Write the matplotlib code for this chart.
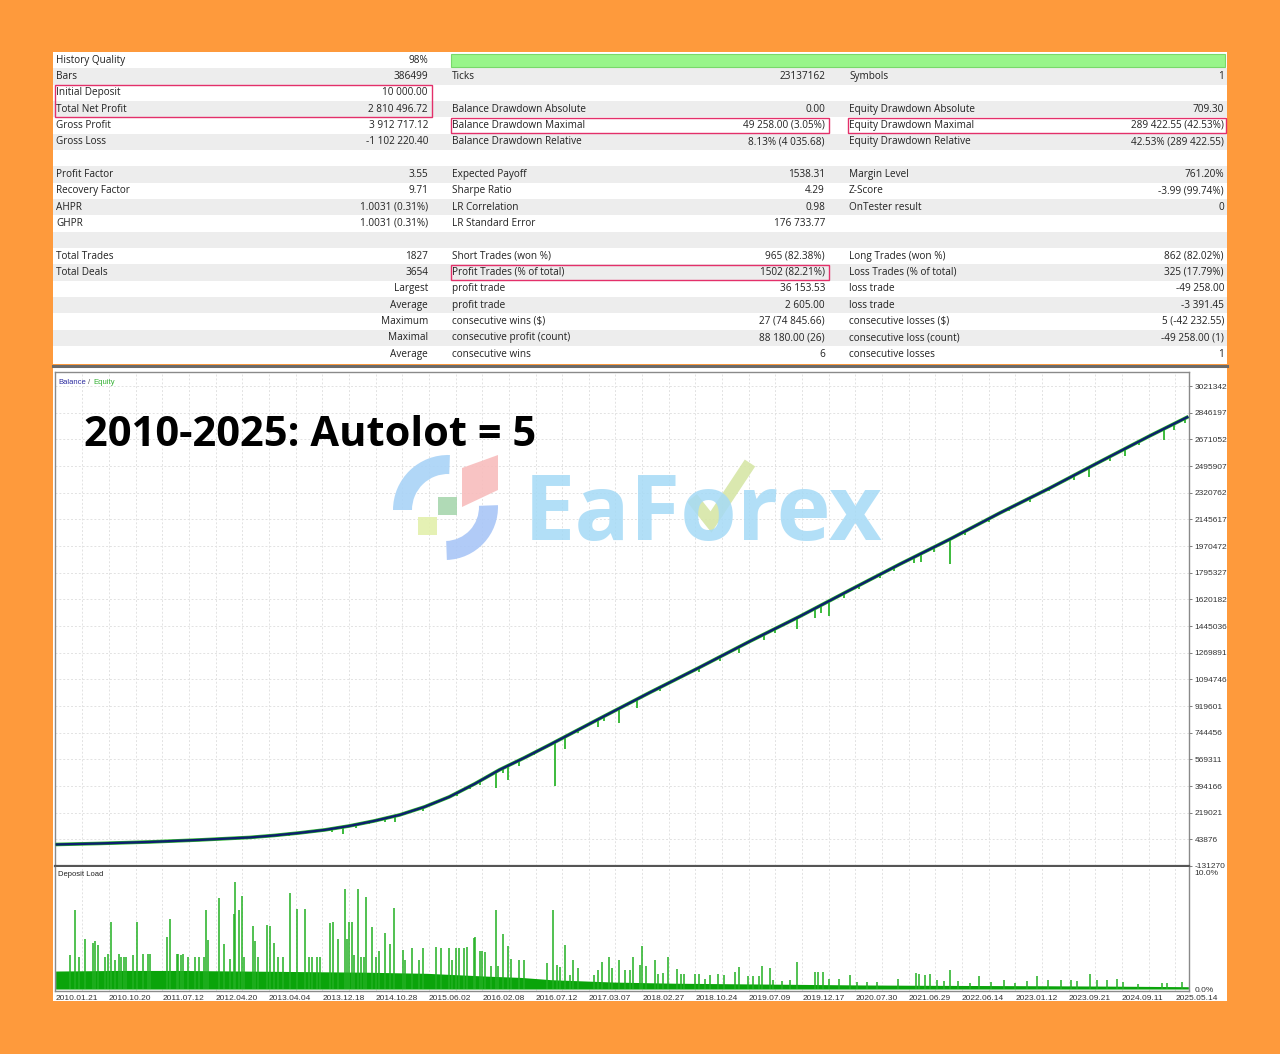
import numpy as np
import matplotlib
matplotlib.use('Agg')
import matplotlib.pyplot as plt
from matplotlib.patches import Rectangle, Polygon, Wedge

# ---------------- data ----------------
# balance curve (trade number -> balance)
trade_pts = [0, 71, 152, 232, 313, 353, 393, 434, 474, 514, 555, 595, 635, 676, 716,
             756, 797, 877, 958, 1038, 1119, 1200, 1280, 1361, 1442, 1522, 1603, 1683,
             1764, 1827]
balance_pts = [10000, 16800, 26700, 39900, 56300, 69500, 86000, 105700, 132000, 164900,
               204400, 257100, 322900, 408500, 500600, 579600, 665100, 836300, 1007400,
               1172000, 1343100, 1507700, 1678800, 1850000, 2014500, 2185600, 2350100,
               2521300, 2692400, 2820497]

# equity dips (trade number, depth below balance)
dip_t = [289, 377, 445, 464, 485, 506, 532, 547, 593, 648, 668, 684, 711, 721, 730,
         747, 772, 805, 822, 842, 874, 884, 909, 938, 974, 1038, 1071, 1103, 1143,
         1160, 1195, 1224, 1235, 1248, 1272, 1296, 1329, 1353, 1385, 1396, 1417, 1443,
         1466, 1506, 1538, 1571, 1603, 1643, 1667, 1700, 1724, 1748, 1788, 1804, 1821]
dip_depth = [10000, 15000, 20000, 46000, 22000, 15000, 22000, 39500, 26000, 22000,
             20000, 25000, 105000, 30000, 92000, 33000, 15000, 290000, 83000, 22000,
             48000, 33000, 99000, 60000, 20000, 30000, 25000, 40000, 40000, 25000,
             70000, 60000, 50000, 100000, 30000, 25000, 20000, 25000, 40000, 55000,
             30000, 165000, 25000, 25000, 20000, 25000, 20000, 30000, 60000, 30000,
             45000, 25000, 75000, 40000, 30000]

# deposit load baseline (trade number, %)
base_t = [0, 100, 200, 300, 400, 500, 600, 700, 750, 800, 850, 900, 950, 1000, 1100,
          1200, 1300, 1400, 1500, 1600, 1700, 1827]
base_pct = [1.55, 1.6, 1.6, 1.55, 1.5, 1.45, 1.35, 1.1, 1.0, 0.8, 0.7, 0.6, 0.55, 0.5,
            0.45, 0.4, 0.35, 0.32, 0.3, 0.28, 0.25, 0.2]

# deposit load spikes (trade number, %)
spike_t = [23, 31, 37, 48, 60, 63, 68, 79, 85, 90, 95, 102, 105, 110, 114, 124, 132,
           141, 149, 152, 179, 185, 195, 198, 203, 206, 214, 224, 231, 239, 243, 245,
           264, 271, 281, 287, 290, 295, 300, 304, 318, 322, 327, 341, 345, 353, 358,
           366, 378, 390, 403, 409, 414, 421, 426, 443, 448, 456, 466, 470, 473, 478,
           482, 487, 493, 498, 501, 510, 516, 522, 532, 540, 546, 560, 564, 574, 586,
           592, 614, 621, 634, 640, 646, 651, 658, 663, 674, 677, 684, 687, 692, 703,
           710, 714, 721, 730, 735, 747, 755, 792, 803, 809, 814, 822, 829, 834, 843,
           868, 875, 882, 893, 898, 908, 919, 926, 932, 942, 945, 953, 966, 972, 980,
           987, 1002, 1009, 1013, 1032, 1038, 1047, 1056, 1069, 1078, 1095, 1102, 1116,
           1124, 1134, 1140, 1153, 1157, 1172, 1184, 1195, 1224, 1230, 1238, 1248,
           1263, 1281, 1293, 1309, 1324, 1359, 1387, 1393, 1403, 1411, 1421, 1433,
           1443, 1456, 1475, 1490, 1508, 1529, 1548, 1566, 1583, 1600, 1621, 1638,
           1648, 1669, 1679, 1696, 1712, 1721, 1745, 1784, 1793, 1817]
spike_pct = [2.9, 6.8, 2.8, 4.3, 4.0, 4.1, 3.8, 2.8, 3.0, 5.8, 2.5, 3.0, 2.8, 2.8, 2.8,
             2.9, 5.8, 3.0, 3.0, 3.0, 4.5, 6.0, 3.0, 3.0, 2.9, 3.0, 2.8, 2.8, 2.8, 2.8,
             6.8, 4.2, 7.8, 3.9, 2.6, 6.5, 9.2, 6.8, 8.0, 2.8, 5.4, 4.1, 2.8, 5.5, 5.4,
             4.0, 2.8, 2.8, 8.3, 6.9, 6.9, 2.8, 2.8, 2.8, 2.8, 5.7, 5.8, 4.3, 8.6, 4.3,
             5.8, 5.8, 2.9, 8.6, 2.8, 2.8, 7.9, 5.3, 2.8, 3.3, 4.8, 3.9, 7.0, 3.4, 2.5,
             3.5, 2.5, 3.5, 3.6, 3.5, 3.5, 2.5, 3.5, 3.5, 3.5, 3.6, 4.4, 4.5, 3.3, 3.3,
             3.2, 2.0, 6.8, 2.0, 4.7, 3.7, 2.6, 2.5, 2.5, 2.2, 6.8, 2.1, 1.9, 3.8, 1.2,
             2.5, 1.8, 1.2, 1.6, 2.3, 2.8, 1.8, 2.5, 1.6, 1.6, 2.8, 2.1, 3.7, 2.0, 2.5,
             1.3, 1.4, 2.8, 1.7, 1.3, 1.3, 1.3, 1.3, 0.9, 1.2, 1.3, 1.2, 1.5, 1.9, 1.1,
             1.1, 1.1, 2.0, 1.8, 0.8, 0.7, 0.8, 2.3, 1.5, 1.5, 1.5, 0.9, 0.9, 1.2, 0.6,
             0.6, 0.6, 0.9, 1.4, 1.3, 1.2, 1.3, 0.8, 0.7, 1.6, 0.7, 0.5, 1.1, 0.6, 0.8,
             0.5, 0.7, 1.1, 0.8, 0.8, 0.8, 0.7, 1.3, 0.8, 0.8, 0.9, 0.6, 0.4, 0.5, 0.5,
             0.6]

y_ticks = [-131270, 43876, 219021, 394166, 569311, 744456, 919601, 1094746, 1269891,
           1445036, 1620182, 1795327, 1970472, 2145617, 2320762, 2495907, 2671052,
           2846197, 3021342]

date_ticks = [0, 86, 172, 258, 344, 430, 516, 602, 688, 774, 860, 946, 1032, 1118,
              1204, 1290, 1376, 1462, 1548, 1634, 1720, 1806]
date_labels = ['2010.01.21', '2010.10.20', '2011.07.12', '2012.04.20', '2013.04.04',
               '2013.12.18', '2014.10.28', '2015.06.02', '2016.02.08', '2016.07.12',
               '2017.03.07', '2018.02.27', '2018.10.24', '2019.07.09', '2019.12.17',
               '2020.07.30', '2021.06.29', '2022.06.14', '2023.01.12', '2023.09.21',
               '2024.09.11', '2025.05.14']

left_col = [('History Quality', '98%'), ('Bars', '386499'), ('Initial Deposit', '10 000.00'),
            ('Total Net Profit', '2 810 496.72'), ('Gross Profit', '3 912 717.12'),
            ('Gross Loss', '-1 102 220.40'), ('', ''), ('Profit Factor', '3.55'),
            ('Recovery Factor', '9.71'), ('AHPR', '1.0031 (0.31%)'),
            ('GHPR', '1.0031 (0.31%)'), ('', ''), ('Total Trades', '1827'),
            ('Total Deals', '3654')]
left_right_labels = ['Largest', 'Average', 'Maximum', 'Maximal', 'Average']
mid_col = [('', ''), ('Ticks', '23137162'), ('', ''),
           ('Balance Drawdown Absolute', '0.00'),
           ('Balance Drawdown Maximal', '49 258.00 (3.05%)'),
           ('Balance Drawdown Relative', '8.13% (4 035.68)'), ('', ''),
           ('Expected Payoff', '1538.31'), ('Sharpe Ratio', '4.29'),
           ('LR Correlation', '0.98'), ('LR Standard Error', '176 733.77'), ('', ''),
           ('Short Trades (won %)', '965 (82.38%)'),
           ('Profit Trades (% of total)', '1502 (82.21%)'),
           ('profit trade', '36 153.53'), ('profit trade', '2 605.00'),
           ('consecutive wins ($)', '27 (74 845.66)'),
           ('consecutive profit (count)', '88 180.00 (26)'),
           ('consecutive wins', '6')]
right_col = [('', ''), ('Symbols', '1'), ('', ''),
             ('Equity Drawdown Absolute', '709.30'),
             ('Equity Drawdown Maximal', '289 422.55 (42.53%)'),
             ('Equity Drawdown Relative', '42.53% (289 422.55)'), ('', ''),
             ('Margin Level', '761.20%'), ('Z-Score', '-3.99 (99.74%)'),
             ('OnTester result', '0'), ('', ''), ('', ''),
             ('Long Trades (won %)', '862 (82.02%)'),
             ('Loss Trades (% of total)', '325 (17.79%)'),
             ('loss trade', '-49 258.00'), ('loss trade', '-3 391.45'),
             ('consecutive losses ($)', '5 (-42 232.55)'),
             ('consecutive loss (count)', '-49 258.00 (1)'),
             ('consecutive losses', '1')]

# ---------------- figure ----------------
W, H = 1280, 1054
fig = plt.figure(figsize=(W / 100, H / 100), dpi=100, facecolor='#FE9A3C')

bg = fig.add_axes([0, 0, 1, 1])
bg.set_xlim(0, W)
bg.set_ylim(H, 0)
bg.axis('off')

TF = 'Open Sans'
bg.add_patch(Rectangle((53, 52), 1174, 312, facecolor='white', edgecolor='none'))
RH = 16.33
for i in range(19):
    if i % 2 == 1:
        bg.add_patch(Rectangle((53, 52 + RH * i), 1174, RH, facecolor='#EDEDED',
                               edgecolor='none'))
bg.add_patch(Rectangle((451, 53.5), 774, 13.5, facecolor='#98F58A', edgecolor='#78D86A',
                       lw=0.8))

fs = 7.2
def row_y(i):
    return 52 + RH * i + RH / 2

for i, (lab, val) in enumerate(left_col):
    if lab:
        bg.text(56, row_y(i), lab, fontsize=fs, family=TF, va='center', ha='left', color='#222')
        bg.text(428, row_y(i), val, fontsize=fs, family=TF, va='center', ha='right', color='#222')
for j, lab in enumerate(left_right_labels):
    bg.text(428, row_y(14 + j), lab, fontsize=fs, family=TF, va='center', ha='right', color='#222')
for i, (lab, val) in enumerate(mid_col):
    if lab:
        bg.text(452, row_y(i), lab, fontsize=fs, family=TF, va='center', ha='left', color='#222')
        bg.text(825, row_y(i), val, fontsize=fs, family=TF, va='center', ha='right', color='#222')
for i, (lab, val) in enumerate(right_col):
    if lab:
        bg.text(849, row_y(i), lab, fontsize=fs, family=TF, va='center', ha='left', color='#222')
        bg.text(1224, row_y(i), val, fontsize=fs, family=TF, va='center', ha='right', color='#222')

red = '#E3306A'
for (x0, r0, w, n) in [(54.5, 2, 377, 2), (450.5, 4, 378, 1), (847.5, 4, 378, 1),
                       (450.5, 13, 378, 1)]:
    bg.add_patch(Rectangle((x0, 52 + RH * r0 + 0.5), w, RH * n - 1, facecolor='none',
                           edgecolor=red, lw=1.0, zorder=5))

bg.plot([53, 1227], [365.5, 365.5], color='#6A6A6A', lw=2.2)
bg.add_patch(Rectangle((53, 367), 1174, 634, facecolor='white', edgecolor='none'))

# ---------------- main chart ----------------
ax = fig.add_axes([55 / W, (H - 866) / H, (1189 - 55) / W, (866 - 372) / H])
ax.set_facecolor('white')
ax.set_xlim(-1, 1828)
ax.set_ylim(-131270, 3021342 + 14 * 6582)
gx = np.arange(43, 1828, 43)
gcol = '#E2E2E2'
for x in gx:
    ax.axvline(x, color=gcol, lw=0.7, ls=(0, (2, 2)), zorder=0)
for y in y_ticks[1:]:
    ax.axhline(y, color=gcol, lw=0.7, ls=(0, (2, 2)), zorder=0)

bal_at = np.interp(dip_t, trade_pts, balance_pts)
ax.vlines(dip_t, bal_at - np.array(dip_depth), bal_at, colors='#2DB52D', lw=1.3, zorder=2)
ax.plot(trade_pts, balance_pts, color='#2DB52D', lw=2.6, zorder=3, solid_capstyle='butt')
ax.plot(trade_pts, balance_pts, color='#0D1F6E', lw=1.7, zorder=4, solid_capstyle='butt')

ax.yaxis.tick_right()
ax.set_yticks(y_ticks)
ax.set_yticklabels([str(v) for v in y_ticks], fontsize=6, family='Liberation Sans', color='#333')
ax.tick_params(axis='y', length=2, width=0.6, color='#666', pad=2)
ax.set_xticks([])
for s in ax.spines.values():
    s.set_color('#8A8A8A')
    s.set_linewidth(1.0)
ax.spines['bottom'].set_color('#555')
ax.spines['bottom'].set_linewidth(1.6)

ax.text(0.003, 0.985, 'Balance', transform=ax.transAxes, fontsize=5.5, color='#2B2BA0',
        va='top', ha='left', family='Liberation Sans')
ax.text(0.0295, 0.985, '/', transform=ax.transAxes, fontsize=5.5, color='#555',
        va='top', ha='left', family='Liberation Sans')
ax.text(0.0335, 0.985, 'Equity', transform=ax.transAxes, fontsize=5.5, color='#33B033',
        va='top', ha='left', family='Liberation Sans')

# ---------------- deposit load ----------------
dep = fig.add_axes([55 / W, (H - 991) / H, (1189 - 55) / W, (991 - 867) / H])
dep.set_facecolor('white')
dep.set_xlim(-1, 1828)
dep.set_ylim(-0.17, 10.51)
for x in gx:
    dep.axvline(x, color=gcol, lw=0.7, ls=(0, (2, 2)), zorder=0)
dep.fill_between(base_t, 0, base_pct, color='#0AA40A', lw=0, zorder=2)
dep.vlines(spike_t, 0, spike_pct, colors='#22B022', lw=1.1, zorder=2)
dep.yaxis.tick_right()
dep.set_yticks([0, 10])
dep.set_yticklabels(['0.0%', '10.0%'], fontsize=6, family='Liberation Sans', color='#333')
dep.tick_params(axis='y', length=0, pad=4)
dep.set_xticks(date_ticks)
dep.set_xticklabels(date_labels, fontsize=6, family='Liberation Sans', color='#333', ha='left')
dep.tick_params(axis='x', length=0, pad=3)
for s in dep.spines.values():
    s.set_color('#8A8A8A')
    s.set_linewidth(1.0)
dep.spines['top'].set_visible(False)
dep.text(0.003, 0.97, 'Deposit Load', transform=dep.transAxes, fontsize=5.5, color='#222',
         va='top', ha='left', family='Liberation Sans')

# ---------------- overlays (title + watermark) ----------------
ov = fig.add_axes([0, 0, 1, 1], facecolor='none')
ov.set_xlim(0, W)
ov.set_ylim(H, 0)
ov.axis('off')
ov.text(84, 446, '2010-2025: Autolot = 5', fontsize=30, family='Open Sans', weight='bold',
        color='black', ha='left', va='baseline')

# logo (y axis inverted: angles are mirrored)
ov.add_patch(Wedge((448, 510), 55, 180, 272, width=19, facecolor='#A9D3F7',
                   edgecolor='none', alpha=0.9))
ov.add_patch(Wedge((445, 507), 53, -2, 88, width=19, facecolor='#A9C6F7',
                   edgecolor='none', alpha=0.9))
ov.add_patch(Polygon([(462, 468), (498, 455), (498, 490), (462, 507)], closed=True,
                     facecolor='#F8BDBD', edgecolor='none', alpha=0.9))
ov.add_patch(Rectangle((438, 497), 19, 18, facecolor='#A8D6AE', edgecolor='none', alpha=0.9))
ov.add_patch(Rectangle((418, 517), 19, 18, facecolor='#E3F0AC', edgecolor='none', alpha=0.9))
ov.text(524, 540, 'EaForex', fontsize=66, family='Open Sans', weight='bold',
        color='#A5DAF6', alpha=0.85, ha='left', va='baseline')
ov.plot([692, 711, 750], [498, 522, 463], color='#D6E6A6', lw=9, alpha=0.9,
        solid_capstyle='butt', solid_joinstyle='miter')

fig.savefig('out.png', dpi=100, facecolor=fig.get_facecolor())
